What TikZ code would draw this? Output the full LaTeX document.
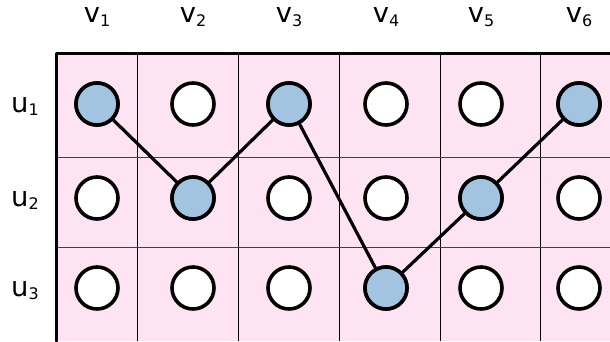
\documentclass[tikz,border=0pt]{standalone}
\usepackage{fontspec}
\setmainfont{DejaVu Sans}
\definecolor{cellpink}{HTML}{FEE3F3}
\definecolor{pickblue}{HTML}{A3C4E1}
\newcommand{\lbl}[2]{#1\raisebox{-3.5pt}{\fontsize{16}{16}\selectfont #2}}
\begin{document}
\begin{tikzpicture}[x=1bp,y=-1bp,
  slot/.style={circle,draw=black,line width=3.6bp,fill=white,minimum size=42bp,inner sep=0pt},
  picked/.style={slot,fill=pickblue},
  head/.style={anchor=base,inner sep=0pt,font=\fontsize{27.5}{27.5}\selectfont},
  thinrule/.style={line width=1bp,black},
  link/.style={line width=3.2bp,black}]
\useasboundingbox (0,0) rectangle (610,341);
% board
\fill[cellpink] (56,53) rectangle (610,341);
\foreach \x in {137,238,339,440,540}
  \draw[thinrule] (\x,53) -- (\x,341);
\foreach \y in {157,247}
  \draw[thinrule,black!75] (56,\y) -- (610,\y);
\draw[line width=3bp,line cap=round,line join=round] (56,341) -- (56,53) -- (610,53);
% column and row headings
\foreach \i/\x in {1/97,2/193,3/289,4/386,5/481,6/579}
  \node[head] (v\i) at (\x,22.7) {\lbl{v}{\i}};
\foreach \j/\y in {1/112,2/206,3/296}
  \node[head] (u\j) at (25,\y) {\lbl{u}{\j}};
% slots
\foreach \i/\x in {1/97,2/193,3/289,4/386,5/481,6/579}
  \foreach \j/\y in {1/104,2/198,3/288}
    \node[slot] (c\j\i) at (\x,\y) {};
\foreach \n in {c11,c22,c13,c34,c25,c16}
  \node[picked] at (\n) {};
% path through the chosen slots
\draw[link] (c11) -- (c22) -- (c13) -- (c34) -- (c25) -- (c16);
\end{tikzpicture}
\end{document}
